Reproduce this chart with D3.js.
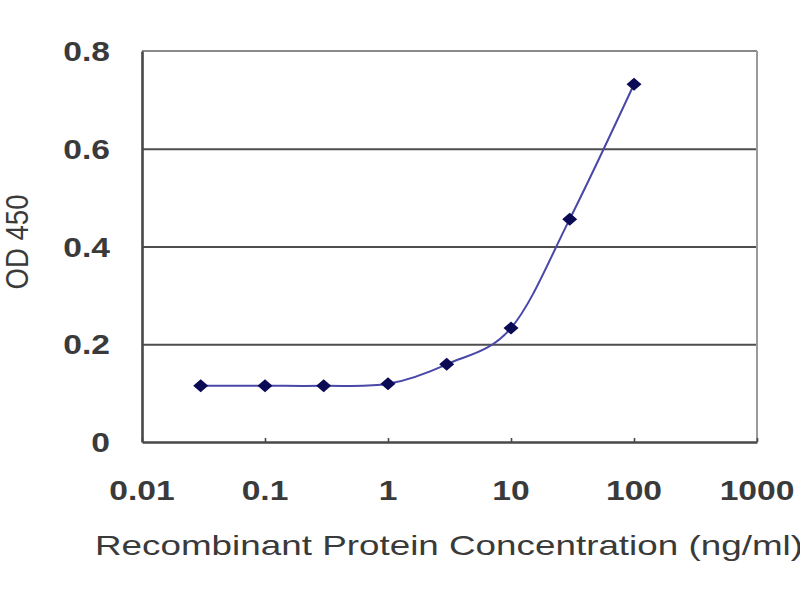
<!DOCTYPE html>
<html>
<head>
<meta charset="utf-8">
<script src="https://cdn.jsdelivr.net/npm/d3@7"></script>
<style>
body { margin: 0; background: #fff; }
svg text { font-family: Arial, "Liberation Sans", sans-serif; fill: #3a3a3a; }
</style>
</head>
<body>
<div id="od_chart"></div>
<script>
// data
const conc = [0.03, 0.1, 0.3, 1, 3, 10, 30, 100]
const od450 = [0.115, 0.115, 0.115, 0.119, 0.159, 0.233, 0.456, 0.732]
const x_ticks = [0.01, 0.1, 1, 10, 100, 1000]
const x_tick_labels = ["0.01", "0.1", "1", "10", "100", "1000"]
const y_ticks = [0, 0.2, 0.4, 0.6, 0.8]
const y_tick_labels = ["0", "0.2", "0.4", "0.6", "0.8"]

const plot_left = 142
const plot_right = 757
const plot_top = 51
const plot_bottom = 442
const stretch = 1.2   // the picture is squashed wide, so are its letters

const line_color = "#4848a8"
const marker_color = "#0a0a55"
const grid_color = "#4e4e4e"

svg = d3.select("#od_chart")
	.append("svg")
	.attr("width", 800)
	.attr("height", 600)

var x = d3.scaleLog()
	.domain([0.01, 1000])
	.range([plot_left, plot_right])
var y = d3.scaleLinear()
	.domain([0, 0.8])
	.range([plot_bottom, plot_top])

// horizontal gridlines
svg.append("g")
	.attr("transform", "translate(" + plot_left + ",0)")
	.call(d3.axisLeft(y).tickValues(y_ticks.slice(1, 4)).tickSize(-(plot_right - plot_left)).tickFormat(""))
	.call(g => g.select(".domain").remove())
	.call(g => g.selectAll("line").attr("stroke", grid_color).attr("stroke-width", 2.2))

// plot border, top and right lighter
svg.append("line")
	.attr("x1", plot_left).attr("y1", plot_top)
	.attr("x2", plot_right).attr("y2", plot_top)
	.attr("stroke", "#8a8a8a").attr("stroke-width", 2)
svg.append("line")
	.attr("x1", plot_right).attr("y1", plot_top)
	.attr("x2", plot_right).attr("y2", plot_bottom)
	.attr("stroke", "#9a9a9a").attr("stroke-width", 2)

// x axis with small inner ticks
svg.append("g")
	.attr("transform", "translate(0," + plot_bottom + ")")
	.call(d3.axisBottom(x).tickValues(x_ticks).tickSize(-4).tickSizeOuter(0).tickFormat(""))
	.call(g => g.select(".domain").attr("stroke", "#484848").attr("stroke-width", 2.6))
	.call(g => g.selectAll(".tick line").attr("stroke", "#484848").attr("stroke-width", 1.6))

// y axis line
svg.append("g")
	.attr("transform", "translate(" + plot_left + ",0)")
	.call(d3.axisLeft(y).tickValues([]).tickSizeOuter(0))
	.call(g => g.select(".domain").attr("stroke", "#484848").attr("stroke-width", 2.6))

// tick labels
svg.selectAll(".y_label")
	.data(y_ticks)
	.enter()
	.append("text")
	.attr("class", "y_label")
	.attr("transform", d => "translate(110," + (y(d) + 10) + ") scale(" + stretch + ",1)")
	.attr("text-anchor", "end")
	.attr("font-size", 28)
	.attr("font-weight", "bold")
	.text((d, i) => y_tick_labels[i])

svg.selectAll(".x_label")
	.data(x_ticks)
	.enter()
	.append("text")
	.attr("class", "x_label")
	.attr("transform", d => "translate(" + x(d) + "," + (plot_bottom + 58) + ") scale(" + stretch + ",1)")
	.attr("text-anchor", "middle")
	.attr("font-size", 28)
	.attr("font-weight", "bold")
	.text((d, i) => x_tick_labels[i])

// axis titles
svg.append("text")
	.attr("x", 95)
	.attr("y", 555)
	.attr("font-size", 28)
	.attr("textLength", 708)
	.attr("lengthAdjust", "spacingAndGlyphs")
	.text("Recombinant Protein Concentration (ng/ml)")

svg.append("text")
	.attr("transform", "translate(17,242) scale(" + stretch + ",1) rotate(-90)")
	.attr("text-anchor", "middle")
	.attr("dominant-baseline", "central")
	.attr("font-size", 26)
	.attr("textLength", 95)
	.attr("lengthAdjust", "spacingAndGlyphs")
	.text("OD 450")

// smoothed curve, like the spreadsheet's smooth line
var points = conc.map((c, i) => [c, od450[i]])
var od_line = d3.line()
	.x(d => x(d[0]))
	.y(d => y(d[1]))
	.curve(d3.curveCardinal.tension(0))

svg.append("path")
	.datum(points)
	.attr("d", od_line)
	.attr("fill", "none")
	.attr("stroke", line_color)
	.attr("stroke-width", 2)

// diamond markers
var dw = 7.5
var dh = 6.5
svg.selectAll(".marker")
	.data(points)
	.enter()
	.append("path")
	.attr("class", "marker")
	.attr("transform", d => "translate(" + x(d[0]) + "," + y(d[1]) + ")")
	.attr("d", "M0," + (-dh) + " L" + dw + ",0 L0," + dh + " L" + (-dw) + ",0 Z")
	.attr("fill", marker_color)
</script>
</body>
</html>
